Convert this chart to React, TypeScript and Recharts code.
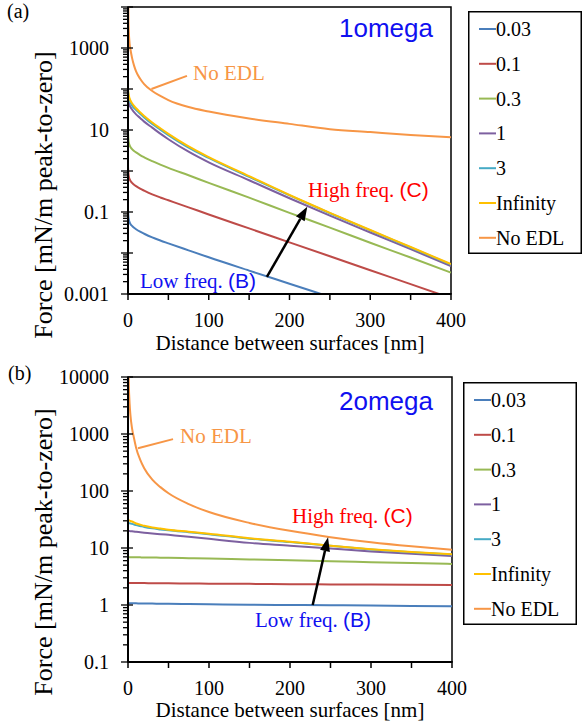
import React from "react";
import {
  LineChart,
  Line,
  XAxis,
  YAxis,
  Legend,
  ReferenceLine,
  ReferenceArea,
} from "recharts";

const SERIF = "'Liberation Serif', 'Times New Roman', serif";
const SANS = "'Liberation Sans', Arial, sans-serif";

// distance between surfaces [nm]
const DIST = [0, 0.5, 1, 2, 3, 5, 7.5, 10, 15, 20, 30, 40, 50, 75, 100, 150, 200, 250, 300, 350, 400];

const SERIES_NAMES = ["0.03", "0.1", "0.3", "1", "3", "Infinity", "No EDL"];
const SERIES_COLORS = ["#4A7EBB", "#BE4B48", "#98B954", "#7D60A0", "#46AAC5", "#FFC000", "#F79646"];

// (a) 1omega
const A_003 = [0.112, 0.0776, 0.0661, 0.0562, 0.0513, 0.0457, 0.0412, 0.038, 0.0331, 0.0295, 0.024, 0.0202, 0.0172, 0.0116, 0.00785, 0.00372, 0.00178, 0.000851, 0.000407, 0.000195, 0.0000933];
const A_01 = [1.26, 0.871, 0.741, 0.631, 0.575, 0.513, 0.462, 0.427, 0.372, 0.331, 0.269, 0.226, 0.193, 0.13, 0.0871, 0.0398, 0.0182, 0.00832, 0.0038, 0.00174, 0.000794];
const A_03 = [8.91, 5.82, 4.95, 4.22, 3.85, 3.43, 3.09, 2.85, 2.45, 2.16, 1.74, 1.43, 1.19, 0.785, 0.513, 0.224, 0.0955, 0.0417, 0.0178, 0.00776, 0.00331];
const A_1 = [63.1, 51.3, 45.7, 39.8, 36.3, 31.6, 27.2, 24.0, 19.7, 16.0, 11.4, 8.13, 5.96, 2.95, 1.62, 0.596, 0.216, 0.0813, 0.0316, 0.0124, 0.00479];
const A_3 = [89.1, 70.8, 61.7, 52.5, 46.8, 39.8, 34.3, 30.9, 24.8, 20.2, 14.0, 10.2, 7.5, 3.72, 2.09, 0.716, 0.254, 0.0933, 0.0355, 0.0136, 0.00525];
const A_INF = [100, 79.4, 69.2, 58.9, 52.5, 44.7, 38.5, 33.9, 27.2, 22.1, 15.3, 11.0, 8.04, 3.98, 2.19, 0.75, 0.26, 0.0955, 0.0363, 0.014, 0.00537];
const A_NOEDL = [100000, 5010, 2510, 1260, 933, 575, 372, 269, 178, 132, 89.1, 67.6, 53.7, 36.3, 28.2, 19.1, 14.1, 10.5, 8.91, 7.59, 6.61];

// (b) 2omega
const B_003 = [1.07, 1.07, 1.07, 1.07, 1.07, 1.07, 1.07, 1.07, 1.06, 1.06, 1.06, 1.05, 1.05, 1.04, 1.03, 1.01, 1.0, 0.99, 0.98, 0.965, 0.955];
const B_01 = [2.43, 2.43, 2.43, 2.43, 2.43, 2.43, 2.43, 2.42, 2.42, 2.42, 2.41, 2.41, 2.4, 2.39, 2.37, 2.35, 2.32, 2.3, 2.28, 2.26, 2.24];
const B_03 = [6.92, 6.92, 6.91, 6.9, 6.9, 6.89, 6.88, 6.87, 6.85, 6.83, 6.8, 6.76, 6.73, 6.63, 6.53, 6.3, 6.1, 5.85, 5.65, 5.45, 5.25];
const B_1 = [19.95, 19.9, 19.9, 19.8, 19.7, 19.6, 19.4, 19.2, 18.9, 18.6, 18.0, 17.5, 17.0, 15.8, 14.5, 12.3, 11.0, 9.77, 8.71, 7.94, 7.24];
const B_3 = [27.5, 27.4, 27.3, 27.1, 26.9, 26.5, 25.9, 25.2, 24.3, 23.4, 22.1, 21.2, 20.4, 18.9, 17.5, 14.6, 12.7, 10.9, 9.45, 8.41, 7.66];
const B_INF = [30.9, 30.7, 30.5, 30.2, 29.8, 29.2, 28.1, 26.9, 25.7, 24.5, 22.9, 21.9, 20.9, 19.3, 17.8, 14.8, 12.9, 11.0, 9.55, 8.51, 7.76];
const B_NOEDL = [40000, 15800, 7410, 3390, 2140, 1260, 832, 575, 355, 251, 158, 117, 91.2, 58.9, 42.7, 27.5, 20.0, 15.5, 12.6, 10.7, 9.33];

// axis ticks
const X_TICKS = [0, 50, 100, 150, 200, 250, 300, 350, 400];
const X_LABELS = [0, 100, 200, 300, 400];
const MANTISSAS = [1, 2, 3, 4, 5, 6, 7, 8, 9];
const A_DECADES = [0.001, 0.01, 0.1, 1, 10, 100, 1000, 10000];
const A_LABELS = [0.001, 0.1, 10, 1000];
const B_DECADES = [0.1, 1, 10, 100, 1000, 10000];
const B_LABELS = [0.1, 1, 10, 100, 1000, 10000];

const buildRows = (series: number[][]) =>
  DIST.map((d, i) => {
    const row: any = { d };
    series.forEach((s, k) => {
      row[`s${k}`] = s[i];
    });
    return row;
  });

const logTicks = (decades: number[]) => {
  const out: number[] = [];
  decades.slice(0, -1).forEach((dec) => MANTISSAS.forEach((m) => out.push(m * dec)));
  out.push(decades[decades.length - 1]);
  return out;
};

const XTick = (props: any) => {
  const { x, y, payload } = props;
  const v = payload.value;
  return (
    <g>
      <line x1={x} x2={x} y1={y - 1} y2={y + 6} stroke="#000" strokeWidth={1.5} />
      {X_LABELS.includes(v) && (
        <text x={x} y={y + 33} textAnchor="middle" fontFamily={SERIF} fontSize={20} fill="#000">
          {v}
        </text>
      )}
    </g>
  );
};

const YTick = (props: any) => {
  const { x, y, payload, decades, labels } = props;
  const v = payload.value;
  const major = decades.includes(v);
  return (
    <g>
      <line x1={major ? x - 7 : x - 5} x2={major ? x + 5 : x} y1={y} y2={y} stroke="#000" strokeWidth={1.3} />
      {labels.includes(v) && (
        <text x={x - 19} y={y + 7} textAnchor="end" fontFamily={SERIF} fontSize={20} fill="#000">
          {String(v)}
        </text>
      )}
    </g>
  );
};

const ArrowShape = (p: any) => {
  const { x1, y1, x2, y2 } = p;
  const ang = Math.atan2(y2 - y1, x2 - x1);
  const len = 14;
  const half = 5;
  const bx = x2 - len * Math.cos(ang);
  const by = y2 - len * Math.sin(ang);
  const nx = -Math.sin(ang) * half;
  const ny = Math.cos(ang) * half;
  return (
    <g>
      <line x1={x1} y1={y1} x2={bx} y2={by} stroke="#000" strokeWidth={2.5} />
      <polygon points={`${x2},${y2} ${bx + nx},${by + ny} ${bx - nx},${by - ny}`} fill="#000" />
    </g>
  );
};

const LegendBox = ({ payload }: any) => (
  <svg width={114} height={243} style={{ display: "block" }}>
    <rect x={0.75} y={0.75} width={112.5} height={241.5} fill="#fff" stroke="#000" strokeWidth={1.5} />
    {(payload || []).map((e: any, i: number) => {
      const cy = 18 + i * 34.8;
      return (
        <g key={i}>
          <line x1={11} x2={28} y1={cy} y2={cy} stroke={e.color} strokeWidth={2} />
          <text x={28} y={cy + 7} fontFamily={SERIF} fontSize={20} fill="#000">
            {e.value}
          </text>
        </g>
      );
    })}
  </svg>
);

type PanelProps = {
  rows: any[];
  margin: { top: number; right: number; bottom: number; left: number };
  decades: number[];
  labels: number[];
  legendPos: { left: number; top: number };
  leader: { x: number; y: number }[];
  arrow: { x: number; y: number }[];
};

const Panel = ({ rows, margin, decades, labels, legendPos, leader, arrow }: PanelProps) => {
  const yMin = decades[0];
  const yMax = decades[decades.length - 1];
  return (
    <LineChart width={582} height={364} data={rows} margin={margin}>
      <XAxis
        dataKey="d"
        type="number"
        domain={[0, 400]}
        ticks={X_TICKS}
        interval={0}
        tickSize={0}
        tickMargin={0}
        tickLine={false}
        axisLine={{ stroke: "#000", strokeWidth: 2 }}
        tick={(p: any) => <XTick {...p} />}
        height={30}
        allowDataOverflow
      />
      <YAxis
        scale="log"
        domain={[yMin, yMax]}
        ticks={logTicks(decades)}
        interval={0}
        tickSize={0}
        tickMargin={0}
        tickLine={false}
        axisLine={{ stroke: "#000", strokeWidth: 2 }}
        tick={(p: any) => <YTick {...p} decades={decades} labels={labels} />}
        width={60}
        allowDataOverflow
      />
      <ReferenceArea x1={0} x2={400} y1={yMin} y2={yMax} fill="none" stroke="#000" strokeWidth={1.5} ifOverflow="visible" />
      {SERIES_NAMES.map((n, k) => (
        <Line
          key={n}
          dataKey={`s${k}`}
          name={n}
          type="monotone"
          stroke={SERIES_COLORS[k]}
          strokeWidth={2}
          dot={false}
          isAnimationActive={false}
        />
      ))}
      <ReferenceLine segment={leader} stroke="#F79646" strokeWidth={2} ifOverflow="visible" />
      <ReferenceLine segment={arrow} shape={ArrowShape} ifOverflow="visible" />
      <Legend
        layout="vertical"
        align="center"
        verticalAlign="middle"
        wrapperStyle={{ left: legendPos.left, top: legendPos.top, width: 114, height: 243 }}
        content={(p: any) => <LegendBox payload={p.payload} />}
      />
    </LineChart>
  );
};

const App = () => {
  const rowsA = buildRows([A_003, A_01, A_03, A_1, A_3, A_INF, A_NOEDL]);
  const rowsB = buildRows([B_003, B_01, B_03, B_1, B_3, B_INF, B_NOEDL]);
  return (
    <div style={{ position: "absolute", left: 0, top: 0, width: 582, height: 728, background: "#fff" }}>
      <div style={{ position: "absolute", left: 0, top: 0 }}>
        <Panel
          rows={rowsA}
          margin={{ top: 7, right: 131, bottom: 40, left: 68 }}
          decades={A_DECADES}
          labels={A_LABELS}
          legendPos={{ left: 468, top: 11 }}
          leader={[{ x: 29, y: 100 }, { x: 73, y: 209 }]}
          arrow={[{ x: 172, y: 0.0026 }, { x: 222, y: 0.135 }]}
        />
      </div>
      <div style={{ position: "absolute", left: 0, top: 364 }}>
        <Panel
          rows={rowsB}
          margin={{ top: 13, right: 130, bottom: 36, left: 68 }}
          decades={B_DECADES}
          labels={B_LABELS}
          legendPos={{ left: 463, top: 18 }}
          leader={[{ x: 12.3, y: 562 }, { x: 55.6, y: 813 }]}
          arrow={[{ x: 228, y: 1.0 }, { x: 247, y: 15.5 }]}
        />
      </div>
      <svg width={582} height={728} style={{ position: "absolute", left: 0, top: 0, pointerEvents: "none" }}>
        <text x={7} y={18} fontFamily={SERIF} fontSize={20}>(a)</text>
        <text x={433} y={37} textAnchor="end" fontFamily={SANS} fontSize={26} fill="#1010F0">1omega</text>
        <text x={193} y={80} fontFamily={SERIF} fontSize={21} fill="#F79646">No EDL</text>
        <text x={140} y={288} fontFamily={SERIF} fontSize={21} fill="#1010F0">
          Low freq. <tspan fontFamily={SANS}>(B)</tspan>
        </text>
        <text x={308} y={197} fontFamily={SERIF} fontSize={21} fill="#FF0000">
          High freq. <tspan fontFamily={SANS}>(C)</tspan>
        </text>
        <text transform="translate(52,195) rotate(-90)" textAnchor="middle" fontFamily={SERIF} fontSize={26}>
          Force [mN/m peak-to-zero]
        </text>
        <text x={290} y={350} textAnchor="middle" fontFamily={SERIF} fontSize={21}>
          Distance between surfaces [nm]
        </text>

        <text x={8} y={380} fontFamily={SERIF} fontSize={20}>(b)</text>
        <text x={433} y={410} textAnchor="end" fontFamily={SANS} fontSize={26} fill="#1010F0">2omega</text>
        <text x={180} y={443} fontFamily={SERIF} fontSize={21} fill="#F79646">No EDL</text>
        <text x={292} y={523} fontFamily={SERIF} fontSize={21} fill="#FF0000">
          High freq. <tspan fontFamily={SANS}>(C)</tspan>
        </text>
        <text x={255} y={627} fontFamily={SERIF} fontSize={21} fill="#1010F0">
          Low freq. <tspan fontFamily={SANS}>(B)</tspan>
        </text>
        <text transform="translate(52,552) rotate(-90)" textAnchor="middle" fontFamily={SERIF} fontSize={26}>
          Force [mN/m peak-to-zero]
        </text>
        <text x={290} y={717} textAnchor="middle" fontFamily={SERIF} fontSize={21}>
          Distance between surfaces [nm]
        </text>
      </svg>
    </div>
  );
};

export default App;
